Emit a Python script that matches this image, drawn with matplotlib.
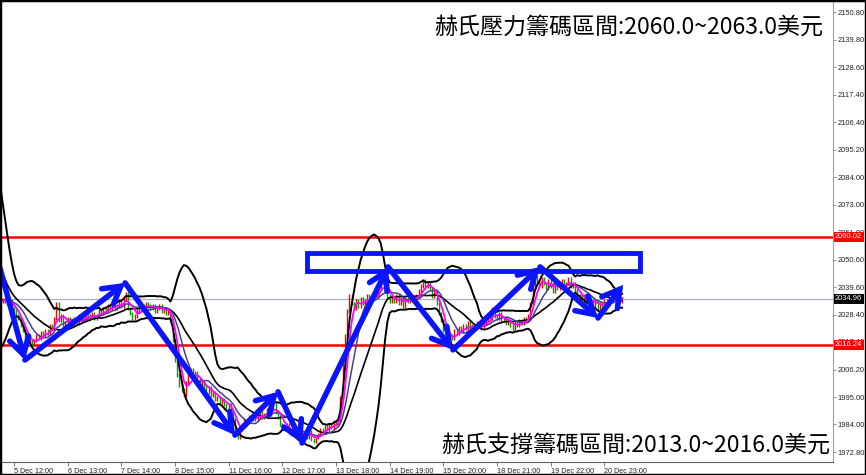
import matplotlib
matplotlib.use('Agg')
import matplotlib.pyplot as plt
import numpy as np
import pandas as pd
from matplotlib.patches import Rectangle, FancyArrowPatch

# ---------------- data ----------------
warmup_closes = [2082, 2078, 2074, 2068, 2062, 2056, 2050, 2045, 2041, 2039,
                 2037, 2036, 2035, 2034, 2036, 2035, 2033, 2034, 2035, 2034]

closes = [
    2034, 2035, 2033, 2034, 2031, 2030, 2028, 2027, 2024, 2022,
    2019, 2017, 2018, 2016.5, 2018, 2020, 2019, 2021, 2020, 2022,
    2021, 2024, 2023, 2027, 2033, 2026, 2028, 2024, 2025, 2027,
    2026, 2024, 2027, 2025, 2028, 2026, 2027, 2029, 2027, 2028,
    2029, 2027, 2028, 2030, 2029, 2031, 2030, 2032, 2031, 2033,
    2031, 2032, 2034, 2032, 2035, 2037, 2031, 2029, 2027, 2028,
    2030, 2031, 2032, 2031, 2033, 2032, 2031, 2032, 2030, 2031,
    2032, 2030, 2031, 2029, 2030, 2026, 2018, 2010, 2004, 2000,
    1998, 1996, 2001, 2004, 2006, 2003, 2005, 2002, 2000, 2001,
    1999, 1997, 1999, 1996, 1997, 1994, 1995, 1993, 1994, 1992,
    1991, 1992, 1989, 1986, 1981, 1979, 1982, 1984, 1986, 1985,
    1987, 1986, 1988, 1986, 1987, 1989, 1987, 1988, 1990, 1988,
    1990, 1993, 1989, 1987, 1984,
    1983, 1982, 1984, 1981, 1980, 1982, 1981, 1979, 1980, 1981,
    1980, 1979, 1981, 1978, 1977, 1979, 1980, 1982, 1981, 1983,
    1982, 1984, 1983, 1985, 1984, 1986, 1995, 2008, 2020, 2030,
    2036, 2033, 2031, 2034, 2032, 2035, 2033, 2034, 2036, 2034,
    2035, 2037, 2036, 2039, 2043, 2041, 2038, 2036, 2034, 2035,
    2034, 2036, 2033, 2035, 2032, 2035, 2034, 2036, 2035, 2034,
    2036, 2038, 2040, 2042, 2040, 2041, 2039, 2036, 2038, 2033,
    2029, 2026, 2022, 2019, 2018, 2020, 2019, 2022, 2021, 2023,
    2022, 2024, 2023, 2025, 2022, 2024, 2023, 2025, 2024, 2023,
    2025, 2026, 2028, 2027, 2031, 2028, 2027, 2029, 2026, 2027,
    2025, 2026, 2024, 2023, 2025, 2024, 2026, 2025, 2027, 2026,
    2028, 2033, 2039, 2044, 2042, 2040, 2043, 2041, 2039, 2042,
    2040, 2038, 2041, 2039, 2040, 2042, 2040, 2041, 2043, 2040,
    2041, 2038, 2035, 2036, 2034, 2036, 2033, 2035, 2034, 2032,
    2034, 2031, 2033, 2032, 2034, 2033, 2035, 2034, 2036, 2035, 2036, 2034, 2034.96,
]

time_labels = ["5 Dec 12:00", "6 Dec 13:00", "7 Dec 14:00", "8 Dec 15:00",
               "11 Dec 16:00", "12 Dec 17:00", "13 Dec 18:00", "14 Dec 19:00",
               "15 Dec 20:00", "18 Dec 21:00", "19 Dec 22:00", "20 Dec 23:00"]

price_ticks = [2150.80, 2139.80, 2128.60, 2117.40, 2106.40, 2095.20, 2084.00,
               2073.00, 2061.80, 2050.60, 2039.60, 2028.40, 2017.40, 2006.20,
               1995.00, 1984.00, 1972.80]

resistance_level = 2060.02
support_level = 2016.24
current_price = 2034.96

# trend arrows drawn on the chart: (bar index, price)
arrow_points = [(-1.3, 2047.4), (9.9, 2010.1), (54.7, 2041.3), (103.8, 1979.7),
                (123.1, 1997.2), (133.8, 1976.5), (172.3, 2047.8), (201.3, 2014.2),
                (240.3, 2047.8), (266.2, 2027.1), (277.4, 2040.5)]

# resistance zone box: start bar, end bar, low price, high price
zone_box = (136.2, 285.0, 2046.2, 2053.5)

top_text = "赫氏壓力籌碼區間:2060.0~2063.0美元"
bottom_text = "赫氏支撐籌碼區間:2013.0~2016.0美元"

# ---------------- computations ----------------
allc = pd.Series(warmup_closes + closes, dtype=float)
nw = len(warmup_closes)
idx = np.arange(len(allc)) - nw
mid = allc.rolling(20).mean()
sd = allc.rolling(20).std(ddof=0)
upper = mid + 2 * sd
lower = mid - 2 * sd
ma_fast = allc.rolling(5).mean()
ma_slow = allc.rolling(10).mean()

opens = allc.shift(1)
vis = idx >= 0
o = opens[vis].values
c = allc[vis].values
x = idx[vis]
hi = np.maximum(o, c)
lo = np.minimum(o, c)
cols = np.where(c >= o, '#ff0000', '#00a000')

# ---------------- figure ----------------
W, H = 866, 475
fig = plt.figure(figsize=(W / 100, H / 100), dpi=100)
ax = fig.add_axes([2 / W, 13 / H, 831 / W, 460 / H])
ax.set_xlim(-0.36, 371.3)
ax.set_ylim(1968.8, 2155.05)

ax.axhline(current_price, color='#a9b4c2', lw=0.9, zorder=1)
ax.axhline(resistance_level, color='#ff0000', lw=1.8, zorder=2)
ax.axhline(support_level, color='#ff0000', lw=1.8, zorder=2)

ax.vlines(x, lo - 0.7, hi + 0.7, colors=cols, lw=1.0, zorder=3)

ax.plot(idx, upper, color='black', lw=1.4, zorder=4)
ax.plot(idx, lower, color='black', lw=1.4, zorder=4)
ax.plot(idx, mid, color='black', lw=1.2, zorder=4)
ax.plot(idx, ma_slow, color='#4b3f8f', lw=1.1, zorder=5)
ax.plot(idx, ma_fast, color='#ff00ff', lw=1.3, zorder=6)

# zone box
b0, b1, p0, p1 = zone_box
ax.add_patch(Rectangle((b0, p0), b1 - b0, p1 - p0, fill=False, ec='#0a14ff', lw=3.5, zorder=7))

# arrows
for (xa, ya), (xb, yb) in zip(arrow_points[:-1], arrow_points[1:]):
    arr = FancyArrowPatch((xa, ya), (xb, yb), arrowstyle='->,head_length=0.6,head_width=0.35',
                          mutation_scale=20, color='#0a14ff', lw=4, shrinkA=0, shrinkB=0,
                          capstyle='round', joinstyle='miter', zorder=8)
    ax.add_patch(arr)

# spines
for s in ['left', 'top']:
    ax.spines[s].set_visible(False)
ax.spines['right'].set_color('#a0a0a0')
ax.spines['bottom'].set_color('#606060')

# y ticks on right
ax.yaxis.tick_right()
ax.set_yticks(price_ticks)
ax.set_yticklabels([f"{v:.2f}" for v in price_ticks], fontsize=5.4, color='#222222',
                   family='Liberation Sans')
ax.tick_params(axis='y', length=2, width=0.6, color='#808080', pad=1.5)

# x ticks
xt = [5 + 24 * k for k in range(len(time_labels))]
ax.set_xticks(xt)
ax.set_xticklabels(time_labels, fontsize=5.2, color='#222222', family='Liberation Sans', ha='left')
ax.tick_params(axis='x', length=3, width=0.6, color='#606060', pad=1.5)

# price boxes
ytr = ax.get_yaxis_transform()
for val, fc in [(resistance_level, '#ff0000'), (support_level, '#ff0000'), (current_price, '#000000')]:
    ax.text(1.0025, val, f"{val:.2f}", transform=ytr, fontsize=5.4, color='white', family='Liberation Sans',
            ha='left', va='center', zorder=10, clip_on=False,
            bbox=dict(boxstyle='square,pad=0.2', fc=fc, ec='none'))

# texts
cjk = ['Noto Sans CJK TC', 'DejaVu Sans']
fig.text(823 / W, 1 - 27 / H, top_text, fontsize=16.6, family=cjk, ha='right', va='center', color='black')
fig.text(830 / W, 1 - 446 / H, bottom_text, fontsize=16.6, family=cjk, ha='right', va='center', color='black')

fig.patches.append(Rectangle((0, 0), 1, 1, transform=fig.transFigure, fill=False, ec='black', lw=2.5))

fig.savefig('out.png', dpi=100)
